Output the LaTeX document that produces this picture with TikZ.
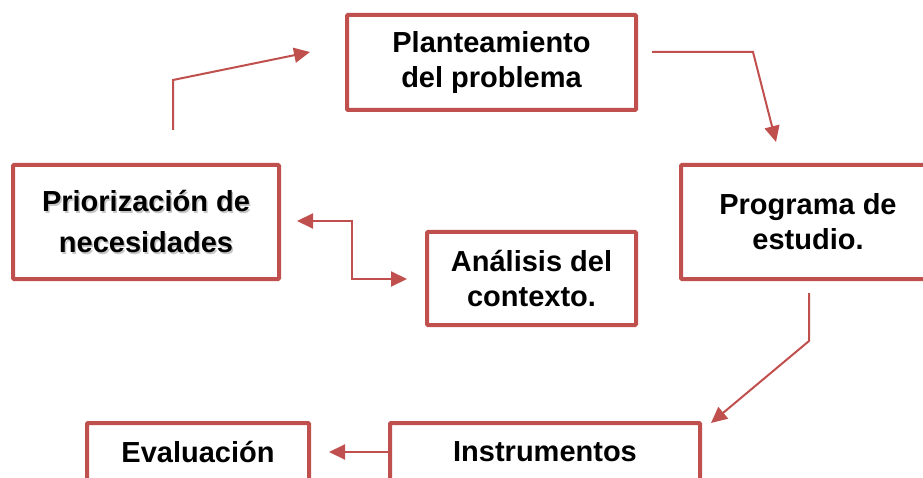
\documentclass[tikz,border=0pt]{standalone}
\usepackage{fontspec}
\setmainfont{Liberation Sans}
\usetikzlibrary{arrows.meta}
\definecolor{boxred}{HTML}{C0504D}
\begin{document}
\begin{tikzpicture}[x=1pt,y=-1pt,
  box/.style={draw=boxred,line width=4pt,rectangle,rounded corners=1pt,inner sep=0pt,
    align=center,font=\bfseries\fontsize{29}{35}\selectfont},
  conn/.style={draw=boxred,line width=2pt,-{Triangle[length=16pt,width=15pt]}},
  conn2/.style={draw=boxred,line width=2pt,{Triangle[length=16pt,width=15pt]}-{Triangle[length=16pt,width=15pt]}}]
\useasboundingbox (0,0) rectangle (923,478);
\clip (0,0) rectangle (923,478);
\node[box,minimum width=289pt,minimum height=95pt] (plan) at (491.5,62.5)
  {\fontsize{29}{34}\selectfont Planteamiento\\del problema};
\node[box,minimum width=266pt,minimum height=114pt] (prio) at (146,222)
  {\fontsize{29}{41}\selectfont\phantom{Priorización de}\\\phantom{necesidades}};
\node[font=\bfseries\fontsize{29}{41}\selectfont,align=center,text=black!22,inner sep=0pt] (prioshadow) at ([shift={(1.5,1.5)}]prio.center)
  {Priorización de\\necesidades};
\node[font=\bfseries\fontsize{29}{41}\selectfont,align=center,inner sep=0pt] (priotext) at (prio.center)
  {Priorización de\\necesidades};
\node[box,minimum width=209pt,minimum height=93pt] (anal) at (531.5,278.5)
  {\fontsize{29}{35}\selectfont Análisis del\\contexto.};
\node[box,minimum width=254pt,minimum height=114pt] (prog) at (808,222)
  {\fontsize{29}{38}\selectfont Programa de\\estudio.};
\node[box,minimum width=222pt,minimum height=58pt] (eval) at (198,452) {Evaluación};
\node[box,minimum width=310pt,minimum height=58pt] (instr) at (545,452) {Instrumentos};
% connectors
\coordinate (a1s) at (173,130);
\coordinate (a1t) at (310,52);
\draw[conn] (a1s) -- (173,80) -- (a1t);
\coordinate (a2s) at (652,52);
\coordinate (a2t) at (776,142);
\draw[conn] (a2s) -- (753,52) -- (a2t);
\coordinate (a3s) at (297,221);
\coordinate (a3t) at (407,279);
\draw[conn2] (a3s) -- (352,221) -- (352,279) -- (a3t);
\coordinate (a4s) at (809,293);
\coordinate (a4t) at (711,423);
\draw[conn] (a4s) -- (809,341) -- (a4t);
\coordinate (a5t) at (329,452);
\draw[conn] (instr.west) -- (a5t);
\end{tikzpicture}
\end{document}
